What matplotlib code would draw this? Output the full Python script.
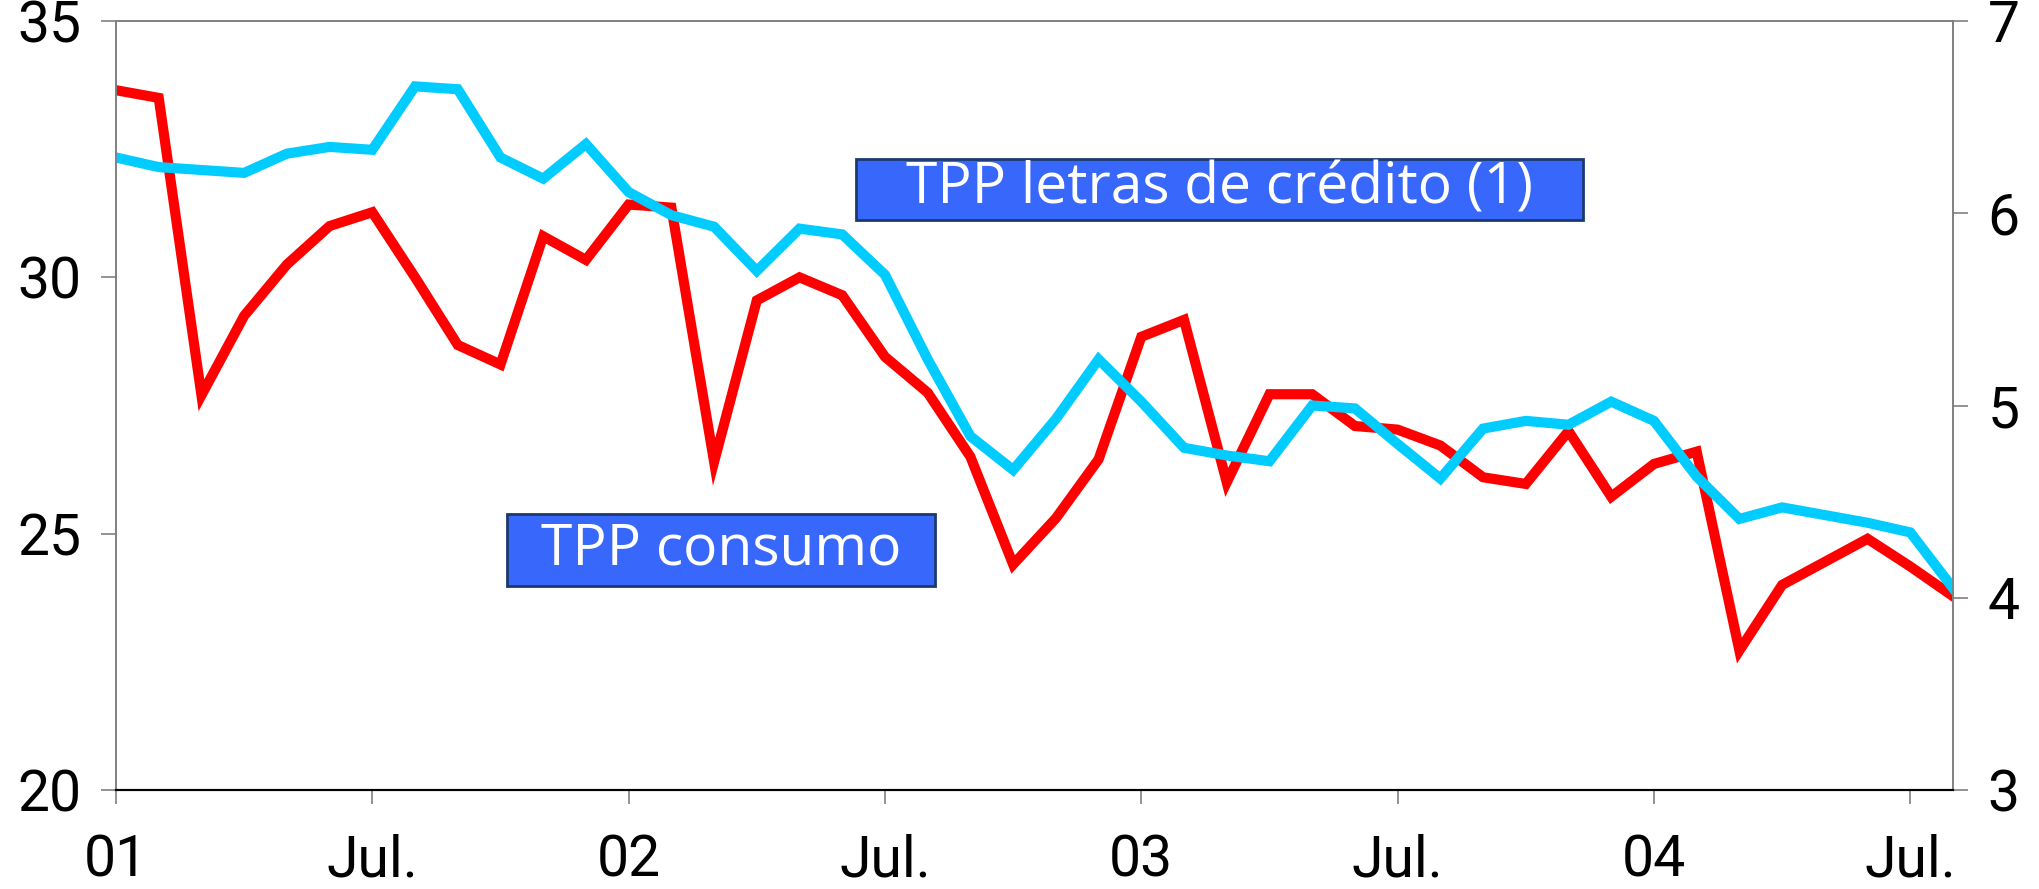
import numpy as np
import matplotlib
matplotlib.use('Agg')
import matplotlib.pyplot as plt
from matplotlib.patches import Rectangle

# monthly, Jan 2001 .. Aug 2004
months = np.arange(44)
tick_pos = [0, 6, 12, 18, 24, 30, 36, 42]
tick_labels = ['01', 'Jul.', '02', 'Jul.', '03', 'Jul.', '04', 'Jul.']

# TPP consumo (left axis)
consumo = [33.65, 33.5, 27.7, 29.25, 30.25, 31.0, 31.27, 30.0, 28.68, 28.3,
           30.8, 30.34, 31.42, 31.36, 26.4, 29.55, 30.0, 29.65, 28.45, 27.75,
           26.5, 24.4, 25.3, 26.45, 28.84, 29.17, 26.0, 27.72, 27.72, 27.1,
           27.03, 26.72, 26.1, 25.97, 27.0, 25.72, 26.36, 26.6, 22.72, 24.0,
           24.45, 24.9, 24.36, 23.78]

# TPP letras de credito (right axis)
letras = [6.29, 6.24, 6.225, 6.21, 6.31, 6.345, 6.33, 6.66, 6.645, 6.29,
          6.18, 6.36, 6.11, 5.99, 5.93, 5.70, 5.92, 5.89, 5.68, 5.24,
          4.84, 4.665, 4.93, 5.24, 5.02, 4.78, 4.74, 4.71, 5.0, 4.985,
          4.80, 4.62, 4.88, 4.92, 4.90, 5.02, 4.92, 4.63, 4.41, 4.47,
          4.43, 4.39, 4.34, 4.05]

tick_font = ['Roboto', 'DejaVu Sans']
box_font = ['Open Sans', 'DejaVu Sans']

fig = plt.figure(figsize=(20.39, 8.89), dpi=100)
ax = fig.add_axes([116/2039, 1 - 790/889, (1953 - 116)/2039, (790 - 21)/889])
ax2 = ax.twinx()

ax.plot(months, consumo, color='#ff0000', lw=7.3, solid_joinstyle='miter')
ax2.plot(months, letras, color='#00ccff', lw=7.3, solid_joinstyle='miter')

ax.set_xlim(0, 43)
ax.set_ylim(20, 35)
ax2.set_ylim(3, 7)
ax.set_yticks([20, 25, 30, 35])
ax2.set_yticks([3, 4, 5, 6, 7])
ax.set_xticks(tick_pos)
ax.set_xticklabels(tick_labels)

for a in (ax, ax2):
    for s in a.spines.values():
        s.set_color('#808080')
        s.set_linewidth(1.2)
    a.spines['bottom'].set_color('black')
    a.spines['bottom'].set_linewidth(1.5)

ax.tick_params(axis='y', length=11, width=1.2, color='#808080', pad=14,
               labelsize=41)
ax2.tick_params(axis='y', length=11, width=1.2, color='#808080', pad=14,
                labelsize=41)
ax.tick_params(axis='x', length=10, width=1.2, color='#808080', pad=21,
               labelsize=41)
for lab in ax.get_xticklabels() + ax.get_yticklabels() + ax2.get_yticklabels():
    lab.set_family(tick_font)

# labels in blue boxes
def label_box(x0, y0, x1, y1, txt):
    W, H = 2039, 889
    fig.patches.append(Rectangle((x0/W, 1 - y1/H), (x1 - x0)/W, (y1 - y0)/H,
                                 transform=fig.transFigure, facecolor='#3868fb',
                                 edgecolor='#1b3a6b', lw=2, zorder=5))
    fig.text((x0 + x1)/2/W, 1 - (y0 + y1)/2/H, txt, color='white',
             fontsize=41, family=box_font, ha='center', va='center', zorder=6)

label_box(856, 159, 1583, 220, 'TPP letras de crédito (1)')
label_box(507, 514, 935, 586, 'TPP consumo')

fig.savefig('out.png', dpi=100)
